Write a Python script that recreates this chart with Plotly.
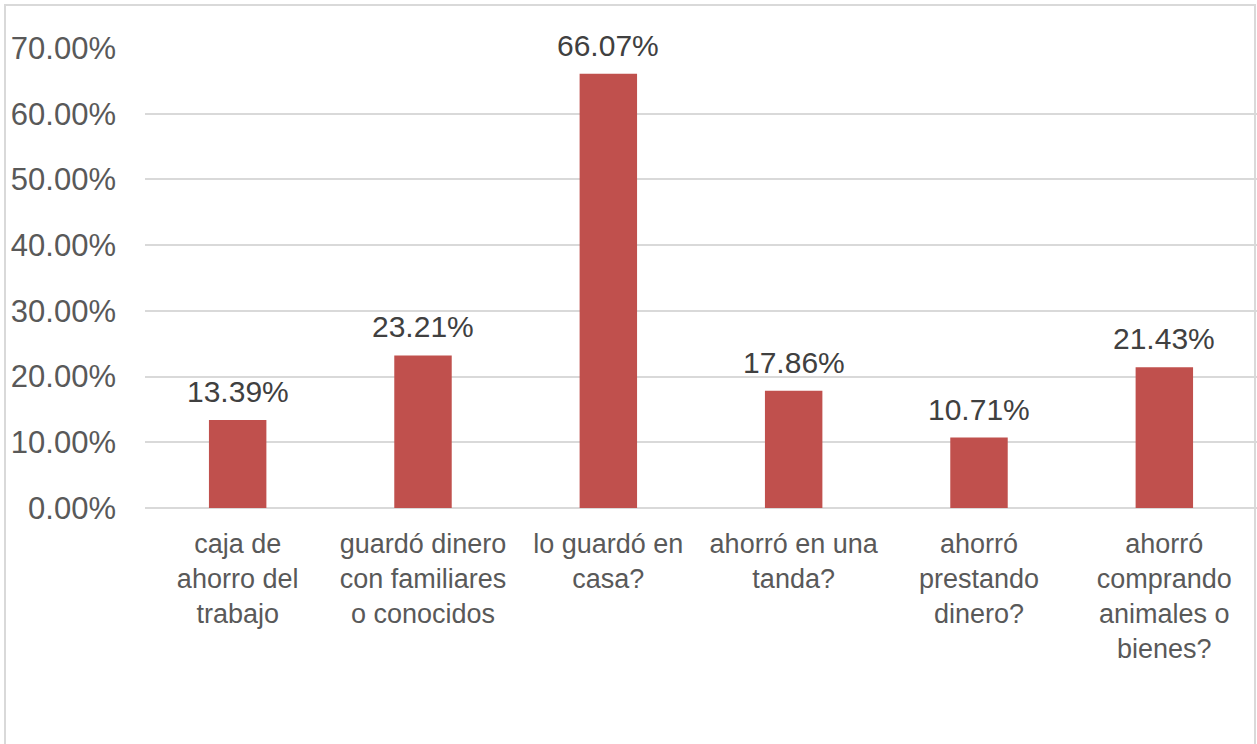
import plotly.graph_objects as go

# Savings methods and their share of respondents
categories = [
    "caja de ahorro del trabajo",
    "guardó dinero con familiares o conocidos",
    "lo guardó en casa?",
    "ahorró en una tanda?",
    "ahorró prestando dinero?",
    "ahorró comprando animales o bienes?",
]
tick_labels = [
    "caja de<br>ahorro del<br>trabajo",
    "guardó dinero<br>con familiares<br>o conocidos",
    "lo guardó en<br>casa?",
    "ahorró en una<br>tanda?",
    "ahorró<br>prestando<br>dinero?",
    "ahorró<br>comprando<br>animales o<br>bienes?",
]
values = [0.1339, 0.2321, 0.6607, 0.1786, 0.1071, 0.2143]

FONT = "Liberation Sans, Arial, sans-serif"
TEXT = "#595959"
GRID = "#D9D9D9"

fig = go.Figure(
    go.Bar(
        x=categories,
        y=values,
        marker=dict(color="#C0504D", line=dict(width=0)),
        hoverinfo="skip",
    )
)

# Value labels above each bar
for cat, v in zip(categories, values):
    fig.add_annotation(
        x=cat,
        y=v,
        text=f"{v:.2%}",
        showarrow=False,
        yanchor="bottom",
        yshift=10,
        font=dict(family=FONT, size=30, color="#404040"),
    )

W, H = 1257, 744
L, R, T, B = 145, 0, 48, 236
pw, ph = W - L - R, H - T - B

fig.update_layout(
    width=W,
    height=H,
    margin=dict(l=L, r=R, t=T, b=B),
    paper_bgcolor="white",
    plot_bgcolor="white",
    bargap=0.69,
    showlegend=False,
    font=dict(family=FONT, color=TEXT),
)
fig.update_xaxes(
    tickmode="array",
    tickvals=categories,
    ticktext=tick_labels,
    tickfont=dict(family=FONT, size=27, color=TEXT),
    showgrid=False,
    showline=False,
    ticks="",
    ticklabelstandoff=17,
)
fig.update_yaxes(
    range=[0, 0.70],
    dtick=0.10,
    tickformat=".2%",
    tickfont=dict(family=FONT, size=31, color=TEXT),
    showgrid=True,
    gridcolor=GRID,
    gridwidth=1.5,
    zeroline=True,
    zerolinecolor=GRID,
    zerolinewidth=1.5,
    showline=False,
    ticks="",
    ticklabelstandoff=28,
)

# Outer chart frame
fig.add_shape(
    type="rect",
    xref="paper",
    yref="paper",
    x0=(5 - L) / pw,
    x1=(1255 - L) / pw,
    y0=(T + ph - 760) / ph,
    y1=(T + ph - 5) / ph,
    line=dict(color=GRID, width=2),
    fillcolor="rgba(0,0,0,0)",
    layer="below",
)

fig.write_html("out.html")
